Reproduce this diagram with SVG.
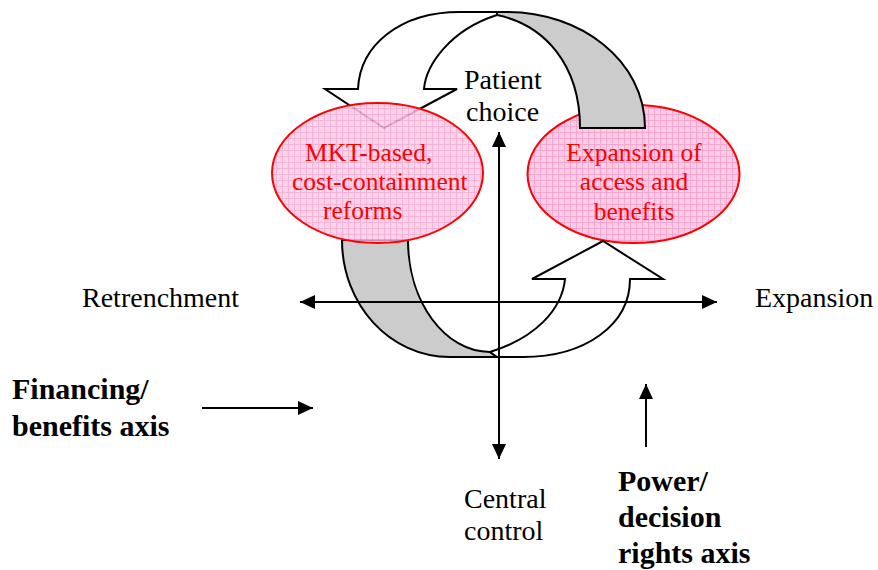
<svg xmlns="http://www.w3.org/2000/svg" width="878" height="570" viewBox="0 0 878 570">
<defs>
<style>
.band{stroke:#000;stroke-width:2;stroke-linejoin:miter}
.w{fill:#fff}
.g{fill:#cccccc}
.ax{stroke:#000;stroke-width:2;fill:none}
text{font-family:'Times New Roman','Liberation Serif',Tinos,serif}
.t{font-size:28px;fill:#000}
.b{font-size:30px;font-weight:bold;fill:#000}
.r{font-size:25.5px;fill:#ff0000}
.ell{fill:url(#grid);stroke:#ff0000;stroke-width:2}
</style>
<pattern id="grid" width="6" height="6" patternUnits="userSpaceOnUse">
<rect width="6" height="6" fill="#ffcbe5"/>
<path d="M0,0.5H6M0.5,0V6" stroke="#f6a6cf" stroke-width="1"/>
</pattern>
<marker id="ah" viewBox="0 0 15 14" refX="15" refY="7" markerWidth="15" markerHeight="14" markerUnits="userSpaceOnUse" orient="auto-start-reverse">
<path d="M0,0 L15,7 L0,14 Z" fill="#000"/>
</marker>
</defs>

<g id="node-expansion">
<ellipse class="ell" cx="633.5" cy="174" rx="106" ry="69"/>
<text class="r" x="634" y="161" text-anchor="middle">Expansion of</text>
<text class="r" x="634" y="190" text-anchor="middle">access and</text>
<text class="r" x="634" y="220" text-anchor="middle">benefits</text>
</g>

<g id="top-arrow">
<path class="band g" d="M497,12 L507,12 C580,12 645,60 645,128 L580,128 C580,65 545,25 497,15 Z"/>
<path class="band w" d="M358,89 C360,45 400,12 460,12 L497,12 L497,15 C450,30 426,65 424,89 L457,89 L384,128 L325,89 Z"/>
</g>

<g id="bottom-arrow">
<path class="band g" d="M342,240 C342,305 390,357 450,357 L497,357 L490,352 C445,352 408,302 408,240 Z"/>
<path class="band w" d="M490,352 C535,338 562,310 565,279 L532,279 L603,241 L663,279 L630,279 C630,325 585,357 523,357 L497,357 Z"/>
</g>

<g id="node-mkt">
<ellipse class="ell" cx="377.5" cy="173" rx="105.5" ry="70" fill-opacity="0.85"/>
<text class="r" x="305" y="161">MKT-based,</text>
<text class="r" x="292" y="190">cost-containment</text>
<text class="r" x="323" y="219">reforms</text>
</g>

<g id="connectors">
<line class="ax" x1="300" y1="302" x2="717" y2="302" marker-start="url(#ah)" marker-end="url(#ah)"/>
<line class="ax" x1="499" y1="132" x2="499" y2="459" marker-start="url(#ah)" marker-end="url(#ah)"/>
<line class="ax" x1="202" y1="408" x2="313" y2="408" marker-end="url(#ah)"/>
<line class="ax" x1="646" y1="447" x2="646" y2="384" marker-end="url(#ah)"/>
</g>

<g id="labels">
<text class="t" x="464" y="89">Patient</text>
<text class="t" x="466" y="121">choice</text>
<text class="t" x="82" y="307">Retrenchment</text>
<text class="t" x="755" y="307">Expansion</text>
<text class="t" x="464" y="508">Central</text>
<text class="t" x="464" y="540">control</text>
<text class="b" x="12" y="399">Financing/</text>
<text class="b" x="12" y="436">benefits axis</text>
<text class="b" x="618" y="491">Power/</text>
<text class="b" x="618" y="527">decision</text>
<text class="b" x="618" y="563">rights axis</text>
</g>
</svg>
